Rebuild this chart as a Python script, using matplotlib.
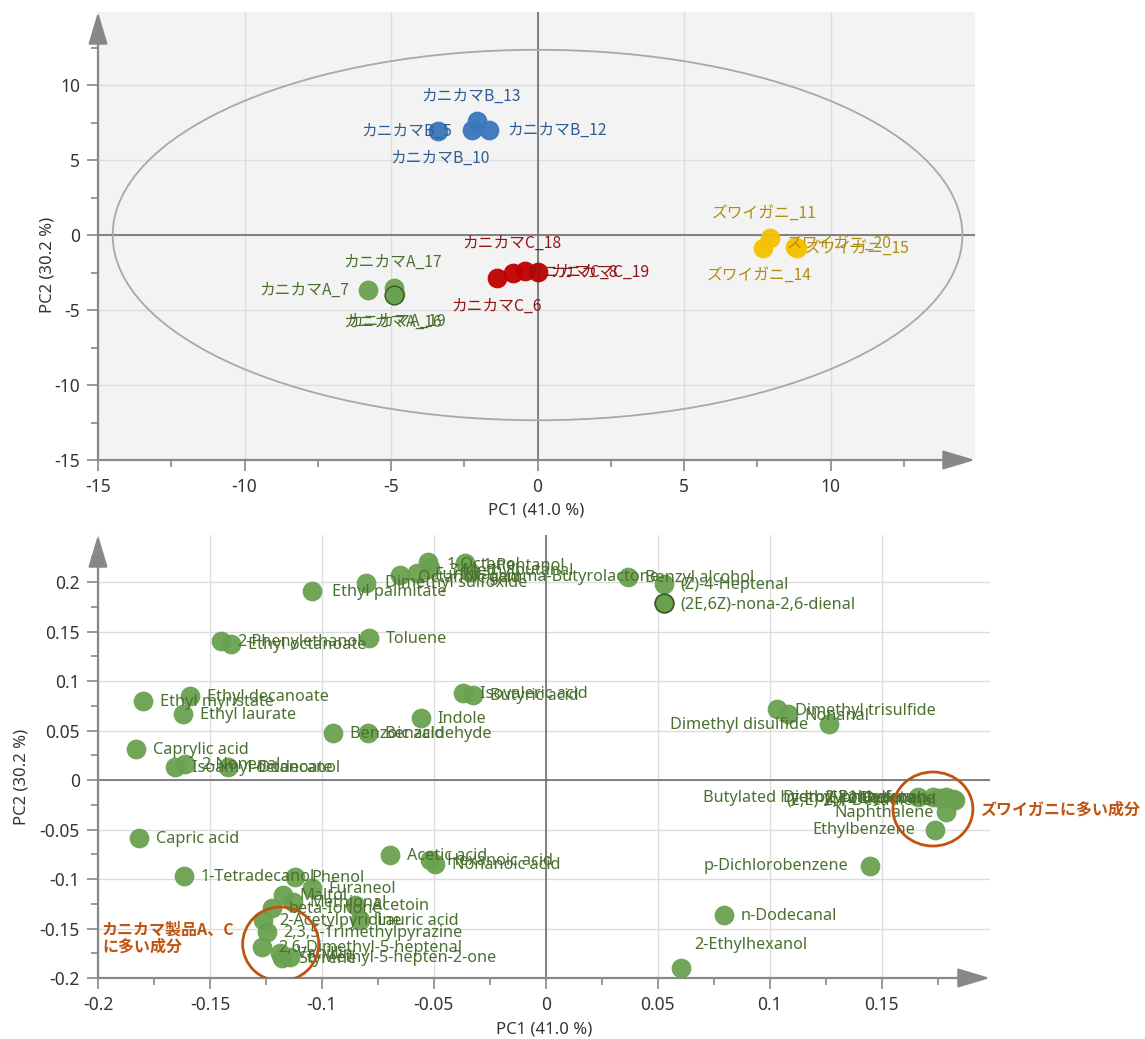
import matplotlib
matplotlib.use("Agg")
import matplotlib.pyplot as plt
from matplotlib.patches import Ellipse
import numpy as np

# ---------------- data: score plot ----------------
grpB_names = ["カニカマB_10", "カニカマB_5", "カニカマB_13", "カニカマB_12"]
grpB_x = [-3.38, -2.25, -2.05, -1.64]
grpB_y = [6.93, 7.0, 7.6, 7.0]

grpA_names = ["カニカマA_7", "カニカマA_17", "カニカマA_16", "カニカマA_19"]
grpA_x = [-5.80, -4.91, -4.91, -4.88]
grpA_y = [-3.67, -3.53, -4.0, -3.93]

grpC_names = ["カニカマC_6", "カニカマC_18", "カニカマC_8", "カニカマC_19"]
grpC_x = [-1.37, -0.85, -0.44, 0.0]
grpC_y = [-2.87, -2.53, -2.40, -2.47]

grpZ_names = ["ズワイガニ_11", "ズワイガニ_14", "ズワイガニ_20", "ズワイガニ_15"]
grpZ_x = [7.92, 7.68, 8.77, 8.84]
grpZ_y = [-0.20, -0.87, -0.80, -0.87]

# ---------------- data: loading plot ----------------
load_names = [
    "Ethyl palmitate", "Dimethyl sulfoxide", "Octanoic acid", "Furfural",
    "1-Octanol", "3-Methylbutanal", "1-Pentanol", "gamma-Butyrolactone",
    "Benzyl alcohol", "(Z)-4-Heptenal", "(2E,6Z)-nona-2,6-dienal",
    "2-Phenylethanol", "Ethyl octanoate", "Toluene",
    "Ethyl decanoate", "Ethyl myristate", "Ethyl laurate", "Caprylic acid",
    "Isoamyl octanoate", "2-Nonenal", "1-Dodecanol",
    "Benzoic acid", "Benzaldehyde", "Indole", "Isovaleric acid", "Butyric acid",
    "Capric acid", "1-Tetradecanol", "Phenol", "Furaneol", "Maltol", "Methional",
    "beta-Ionone", "2-Acetylpyridine", "2,3,5-Trimethylpyrazine",
    "2,6-Dimethyl-5-heptenal", "Vanillin", "Styrene", "6-Methyl-5-hepten-2-one",
    "Acetoin", "Lauric acid", "Acetic acid", "Hexanoic acid", "Nonanoic acid",
    "Dimethyl trisulfide", "Nonanal", "Dimethyl disulfide", "p-Dichlorobenzene",
    "n-Dodecanal", "2-Ethylhexanol", "Naphthalene", "Ethylbenzene",
    "Butylated hydroxytoluene", "Diethyl phthalate", "(E)-2-Octenal",
    "2-Pentylfuran", "Dodecane", "(E,E)-2,4-Decadienal",
]
load_x = [
    -0.1046, -0.0804, -0.0652, -0.0576,
    -0.0527, -0.0518, -0.0362, -0.0340,
    0.0366, 0.0527, 0.0527,
    -0.1452, -0.1408, -0.0791,
    -0.1591, -0.1801, -0.1622, -0.1832,
    -0.1658, -0.1613, -0.1421,
    -0.0952, -0.0795, -0.0559, -0.0371, -0.0326,
    -0.1819, -0.1617, -0.1122, -0.1046, -0.1175, -0.1130,
    -0.1224, -0.1265, -0.1247,
    -0.1269, -0.1189, -0.1180, -0.1144,
    -0.0853, -0.0831, -0.0697, -0.0518, -0.0496,
    0.1032, 0.1081, 0.1265, 0.1448,
    0.0795, 0.0603, 0.1787, 0.1738,
    0.1662, 0.1729, 0.1760,
    0.1787, 0.1819, 0.1828,
]
load_y = [
    0.1909, 0.1990, 0.2071, 0.2091,
    0.2202, 0.2141, 0.2192, 0.2101,
    0.2051, 0.1980, 0.1788,
    0.1404, 0.1374, 0.1434,
    0.0848, 0.0798, 0.0667, 0.0313,
    0.0131, 0.0162, 0.0131,
    0.0475, 0.0475, 0.0626, 0.0879, 0.0859,
    -0.0586, -0.0970, -0.0980, -0.1091, -0.1162, -0.1232,
    -0.1293, -0.1414, -0.1535,
    -0.1687, -0.1747, -0.1798, -0.1788,
    -0.1263, -0.1414, -0.0758, -0.0808, -0.0848,
    0.0717, 0.0667, 0.0566, -0.0869,
    -0.1364, -0.1899, -0.0323, -0.0505,
    -0.0172, -0.0172, -0.0180,
    -0.0172, -0.0192, -0.0202,
]

top_xticks = [-15, -10, -5, 0, 5, 10]
top_yticks = [-15, -10, -5, 0, 5, 10]
bot_xticks = [-0.2, -0.15, -0.1, -0.05, 0, 0.05, 0.1, 0.15]
bot_yticks = [-0.2, -0.15, -0.1, -0.05, 0, 0.05, 0.1, 0.15, 0.2]

def fmt(v):
    return "%g" % v

# ---------------- layout / style ----------------
JP = ["Noto Sans CJK JP", "DejaVu Sans"]
LAT = ["Noto Sans", "DejaVu Sans"]
plt.rcParams["font.family"] = JP

W, H = 1145, 1039
fig = plt.figure(figsize=(W / 100, H / 100), dpi=100)

def px_axes(l, t, r, b):
    return fig.add_axes([l / W, 1 - b / H, (r - l) / W, (b - t) / H])

AX_COL = "#888888"
TICK_COL = "#333333"

def style_axes(ax, xmaj, ymaj, xmin, ymin):
    for sp in ax.spines.values():
        sp.set_visible(False)
    ax.set_xticks(xmaj)
    ax.set_yticks(ymaj)
    ax.set_xticks(xmin, minor=True)
    ax.set_yticks(ymin, minor=True)
    ax.set_xticklabels([fmt(v) for v in xmaj])
    ax.set_yticklabels([fmt(v) for v in ymaj])
    ax.tick_params(which="major", direction="out", length=8, width=1.2,
                   color=AX_COL, labelsize=12.5, labelcolor=TICK_COL, pad=5)
    ax.tick_params(which="minor", direction="out", length=5, width=1.2,
                   color=AX_COL)
    for lab in ax.get_xticklabels() + ax.get_yticklabels():
        lab.set_family(LAT)
    ax.grid(which="major", color="#dcdcdc", lw=1.0, zorder=0)
    ax.set_axisbelow(True)
    ax.axhline(0, color="#6e6e6e", lw=1.2, zorder=1)
    ax.axvline(0, color="#6e6e6e", lw=1.2, zorder=1)
    ap = dict(arrowstyle="-|>,head_length=1.0,head_width=0.3", color=AX_COL,
              lw=1.6, shrinkA=0, shrinkB=0, mutation_scale=20)
    ax.annotate("", xy=(1.0, 0), xytext=(0, 0), xycoords="axes fraction",
                textcoords="axes fraction", arrowprops=ap, annotation_clip=False)
    ax.annotate("", xy=(0, 1.0), xytext=(0, 0), xycoords="axes fraction",
                textcoords="axes fraction", arrowprops=ap, annotation_clip=False)

def label(ax, x, y, text, dx, dy, ha, color, fam, size=11):
    ax.annotate(text, (x, y), xytext=(dx, dy), textcoords="offset pixels",
                ha=ha, va="center", color=color, fontsize=size, family=fam,
                zorder=5, annotation_clip=False)

MS = 180
LBL = 11.7

# ================= top: scores =================
ax1 = px_axes(98, 12, 975, 460)
ax1.set_facecolor("#f3f3f3")
ax1.set_xlim(-15, 14.93)
ax1.set_ylim(-15, 14.87)
style_axes(ax1, top_xticks, top_yticks,
           np.arange(-15, 15, 2.5), np.arange(-15, 15, 2.5))
ax1.grid(which="major", color="#dedede", lw=1.0, zorder=0)
ax1.add_patch(Ellipse((0, 0), 29.0, 24.7, fill=False, ec="#a8a8a8", lw=1.3,
                      zorder=2))
ax1.set_xlabel("PC1 (41.0 %)", fontsize=12, color=TICK_COL, family=LAT,
               labelpad=5)

groups = [
    (grpA_names, grpA_x, grpA_y, "#6aa150", "#4a7030",
     [(-18, 0, "right"), (-1, 26, "center"), (-1, -27, "center"), (2, -27, "center")]),
    (grpB_names, grpB_x, grpB_y, "#3a77bb", "#2d5d92",
     [(1, -27, "center"), (-20, -1, "right"), (-6, 25, "center"), (18, 0, "left")]),
    (grpC_names, grpC_x, grpC_y, "#c00000", "#8e1616",
     [(-1, -28, "center"), (-1, 30, "center"), (3, -1, "left"), (13, 0, "left")]),
    (grpZ_names, grpZ_x, grpZ_y, "#f5c200", "#b08c10",
     [(-5, 25, "center"), (-3, -27, "center"), (-8, 4, "left"), (8, 0, "left")]),
]
for names, xs, ys, fc, tc, offs in groups:
    ax1.scatter(xs, ys, s=MS, c=fc, edgecolors=fc, linewidths=0.8, alpha=0.95,
                zorder=3)
    for n, x, y, (dx, dy, ha) in zip(names, xs, ys, offs):
        label(ax1, x, y, n, dx, dy, ha, tc, JP, 11.3)
ax1.scatter([grpA_x[2]], [grpA_y[2]], s=MS, c="#6aa150", edgecolors="#3d5a28",
            linewidths=1.0, zorder=4)

fig.text(47 / W, 1 - 265 / H, "PC2 (30.2 %)", rotation=90, ha="center",
         va="center", fontsize=12, color=TICK_COL, family=LAT)

# ================= bottom: loadings =================
ax2 = px_axes(98, 535, 990, 978)
ax2.set_facecolor("white")
ax2.set_xlim(-0.2, 0.1984)
ax2.set_ylim(-0.2, 0.2475)
style_axes(ax2, bot_xticks, bot_yticks,
           np.arange(-0.2, 0.19, 0.025), np.arange(-0.2, 0.24, 0.025))
ax2.set_xlabel("PC1 (41.0 %)", fontsize=12, color=TICK_COL, family=LAT,
               labelpad=5)

GFC = "#6aa150"
GTC = "#4a7030"
ax2.scatter(load_x, load_y, s=MS, c=GFC, edgecolors=GFC, linewidths=0.8,
            alpha=0.95, zorder=3)
ax2.scatter([load_x[10]], [load_y[10]], s=MS, c=GFC, edgecolors="#3d5a28",
            linewidths=1.3, zorder=4)

special = {
    "Ethyl palmitate": (20, -1, "left"),
    "Dimethyl sulfoxide": (19, 0, "left"),
    "Octanoic acid": (18, -3, "left"),
    "Furfural": (18, -2, "left"),
    "1-Octanol": (19, -3, "left"),
    "3-Methylbutanal": (18, -3, "left"),
    "1-Pentanol": (18, -3, "left"),
    "gamma-Butyrolactone": (18, -5, "left"),
    "Isoamyl octanoate": (17, -1, "left"),
    "Dimethyl trisulfide": (18, -2, "left"),
    "Nonanal": (17, -2, "left"),
    "Dimethyl disulfide": (-21, -1, "right"),
    "p-Dichlorobenzene": (-22, 0, "right"),
    "2-Ethylhexanol": (13, 23, "left"),
    "Naphthalene": (-12, -1, "right"),
    "Ethylbenzene": (-20, 0, "right"),
    "Butylated hydroxytoluene": (-18, -1, "right"),
    "Diethyl phthalate": (-18, -1, "right"),
    "(E)-2-Octenal": (-18, -1, "right"),
    "2-Pentylfuran": (-18, -1, "right"),
    "Dodecane": (-18, 0, "right"),
    "(E,E)-2,4-Decadienal": (-18, 0, "right"),
}
for n, x, y in zip(load_names, load_x, load_y):
    dx, dy, ha = special.get(n, (17, -1, "left"))
    label(ax2, x, y, n, dx, dy, ha, GTC, LAT, LBL)

ORG = "#c0530f"
ax2.add_patch(Ellipse((0.1729, -0.0293), 0.0357, 0.0748, fill=False, ec=ORG,
                      lw=2.0, zorder=6))
ax2.add_patch(Ellipse((-0.1184, -0.1657), 0.0340, 0.0748, fill=False, ec=ORG,
                      lw=2.0, zorder=6))
fig.text(980 / W, 1 - 810 / H, "ズワイガニに多い成分", ha="left", va="center",
         color=ORG, fontsize=11.5, fontweight="bold", family=JP)
fig.text(102 / W, 1 - 938 / H, "カニカマ製品A、C\nに多い成分", ha="left",
         va="center", color=ORG, fontsize=11.5, fontweight="bold", family=JP,
         linespacing=1.05)

fig.text(22 / W, 1 - 777 / H, "PC2 (30.2 %)", rotation=90, ha="center",
         va="center", fontsize=12, color=TICK_COL, family=LAT)

fig.savefig("out.png", dpi=100, facecolor="white")
